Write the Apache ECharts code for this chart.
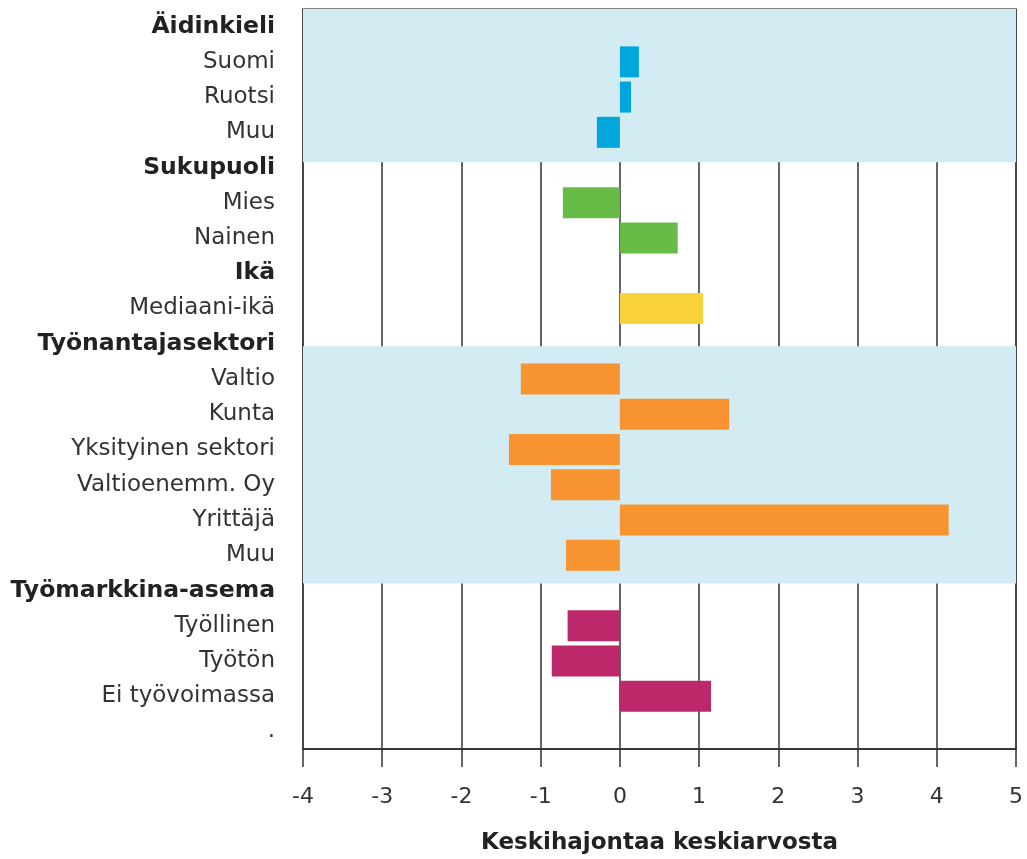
<!DOCTYPE html>
<html>
<head>
<meta charset="utf-8">
<script src="https://cdn.jsdelivr.net/npm/echarts@6/dist/echarts.min.js"></script>
<style>
  html, body { margin: 0; padding: 0; background: #fff; }
  #chart { width: 1027px; height: 859px; }
</style>
</head>
<body>
<div id="chart"></div>
<script>
// rows top to bottom, group headers have no bar
const categories = [
  'Äidinkieli', 'Suomi', 'Ruotsi', 'Muu',
  'Sukupuoli', 'Mies', 'Nainen',
  'Ikä', 'Mediaani-ikä',
  'Työnantajasektori', 'Valtio', 'Kunta', 'Yksityinen sektori', 'Valtioenemm. Oy', 'Yrittäjä', 'Muu ',
  'Työmarkkina-asema', 'Työllinen', 'Työtön', 'Ei työvoimassa',
  '.'
]
const headers = ['Äidinkieli', 'Sukupuoli', 'Ikä', 'Työnantajasektori', 'Työmarkkina-asema']

const values = [
  null, 0.24, 0.14, -0.29,
  null, -0.72, 0.73,
  null, 1.05,
  null, -1.25, 1.38, -1.40, -0.87, 4.15, -0.68,
  null, -0.66, -0.86, 1.15,
  null
]
const groupOf = [
  0, 0, 0, 0,
  1, 1, 1,
  2, 2,
  3, 3, 3, 3, 3, 3, 3,
  4, 4, 4, 4,
  4
]
const groupColors = ['#00a7dd', '#66bc46', '#f9d23b', '#f7942f', '#bd286a']

// shaded bands, in row units (row i spans i-0.5 .. i+0.5)
const bands = [[-0.5, 3.85], [9.07, 15.8]]

const chart = echarts.init(document.getElementById('chart'))
const font = '"DejaVu Sans", Verdana, sans-serif'

chart.setOption({
  animation: false,
  textStyle: { fontFamily: font },
  grid: {
    left: 303,
    right: 11,
    top: 9,
    bottom: 110,
    outerBoundsMode: 'none',
    show: true,
    borderColor: '#5a5a5a',
    borderWidth: 1.5
  },
  xAxis: {
    type: 'value',
    min: -4,
    max: 5,
    interval: 1,
    name: 'Keskihajontaa keskiarvosta',
    nameLocation: 'middle',
    nameGap: 83,
    nameTextStyle: { fontSize: 23, fontWeight: 'bold', color: '#222', fontFamily: font },
    axisLine: { show: true, onZero: false, lineStyle: { color: '#222', width: 1.5 } },
    axisTick: { show: true, inside: false, length: 18, lineStyle: { color: '#333', width: 1.5 } },
    axisLabel: { fontSize: 22, color: '#333', margin: 37, fontFamily: font },
    splitLine: { show: true, lineStyle: { color: '#333', width: 1.5 } }
  },
  yAxis: [{
    type: 'category',
    inverse: true,
    data: categories,
    axisLine: { show: false },
    axisTick: { show: false },
    axisLabel: {
      margin: 28,
      formatter: v => headers.includes(v) ? '{h|' + v + '}' : '{n|' + v.trim() + '}',
      rich: {
        h: { fontSize: 23.5, fontWeight: 'bold', color: '#222', fontFamily: font },
        n: { fontSize: 23, color: '#333', fontFamily: font }
      }
    },
    splitLine: { show: false }
  }, {
    type: 'value',
    inverse: true,
    min: -0.5,
    max: categories.length - 0.5,
    show: false
  }],
  series: [{
    type: 'scatter',
    yAxisIndex: 1,
    data: [],
    silent: true,
    markArea: {
      silent: true,
      itemStyle: { color: '#d3ebf2' },
      data: bands.map(b => [{ yAxis: b[0] }, { yAxis: b[1] }])
    }
  }, {
    type: 'bar',
    barCategoryGap: '12%',
    data: values.map((v, i) => ({
      value: v,
      itemStyle: { color: groupColors[groupOf[i]] }
    }))
  }]
})
</script>
</body>
</html>
